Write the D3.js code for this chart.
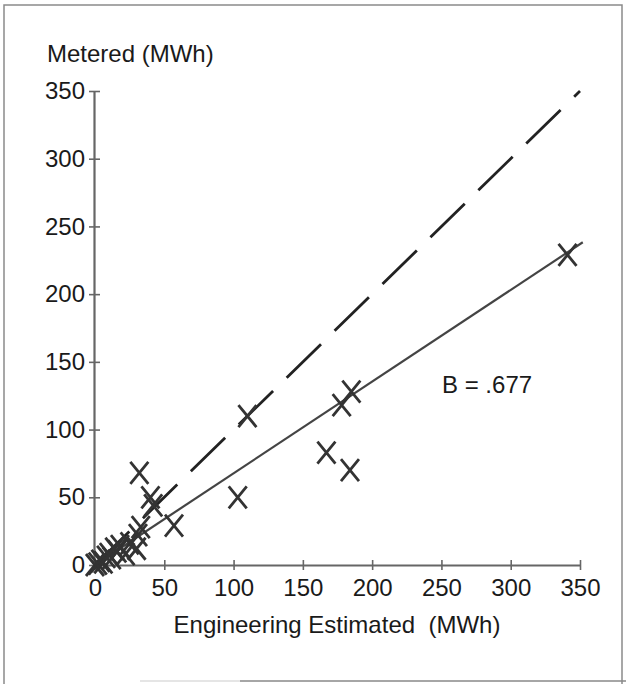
<!DOCTYPE html>
<html>
<head>
<meta charset="utf-8">
<script src="https://cdn.jsdelivr.net/npm/d3@7"></script>
<style>
  body { margin: 0; background: #fff; }
  text { font-family: "Liberation Sans", Arial, sans-serif; fill: #1a1a1a; }
</style>
</head>
<body>
<script>

// values (MWh)
var estimated = [0, 2, 4, 6, 8, 10, 12, 14, 16, 18, 22, 25, 30, 31, 33, 32, 40, 42, 57, 103, 110, 167, 178, 184, 185, 341];
var metered   = [0, 1, 3, 2, 6, 8, 5, 12, 10, 14, 8, 16, 12, 22, 28, 68, 50, 44, 29, 50, 110, 83, 118, 70, 128, 229];

var xTicks = [0, 50, 100, 150, 200, 250, 300, 350],
    yTicks = [0, 50, 100, 150, 200, 250, 300, 350];

var slope = 0.677;          // fitted line, B = .677
var fitEnd = [0, 352];      // estimated range the fit is drawn over
var identity = [0, 350];    // 1:1 reference line

var width = 626,
    height = 684;

var svg = d3.select("body").append("svg")
    .attr("width", width)
    .attr("height", height);

// scanned frame round the figure
svg.append("path")
    .attr("d", "M4,684V5H622V684")
    .attr("fill", "none")
    .attr("stroke", "#8a8a8a")
    .attr("stroke-width", 1.5);
svg.append("line")
    .attr("x1", 140).attr("x2", 240)
    .attr("y1", 681).attr("y2", 681)
    .attr("stroke", "#ccc")
    .attr("stroke-width", 1.2);
svg.append("line")
    .attr("x1", 240).attr("x2", 626)
    .attr("y1", 681).attr("y2", 681)
    .attr("stroke", "#888")
    .attr("stroke-width", 1.5);

var x = d3.scaleLinear().domain([0, 350]).range([95, 580]);
var y = d3.scaleLinear().domain([0, 350]).range([565, 91]);

var xAxis = svg.append("g")
    .attr("transform", "translate(0," + y(0) + ")")
    .call(d3.axisBottom(x).tickValues(xTicks).tickSizeOuter(0));

var yAxis = svg.append("g")
    .attr("transform", "translate(" + (x(0) - 1) + ",0)")
    .call(d3.axisLeft(y).tickValues(yTicks).tickSizeOuter(0));

[xAxis, yAxis].forEach(function(g) {
  g.attr("font-size", null).attr("font-family", null);
  g.select(".domain").attr("stroke", "#666").attr("stroke-width", 2.2);
  g.selectAll(".tick line").attr("stroke", "#666").attr("stroke-width", 1.6);
  g.selectAll(".tick text").style("font-size", "24px").attr("fill", "#1a1a1a");
});

xAxis.selectAll(".tick line").attr("y1", -5).attr("y2", 5);
xAxis.selectAll(".tick text").attr("y", 14);

yAxis.selectAll(".tick line").attr("x1", -5).attr("x2", 6);
yAxis.selectAll(".tick text").attr("x", -9);

// 1:1 dashed line
var line = d3.line()
    .x(function(d) { return x(d[0]); })
    .y(function(d) { return y(d[1]); });

svg.append("path")
    .datum(identity.map(function(v) { return [v, v]; }))
    .attr("d", line)
    .attr("fill", "none")
    .attr("stroke", "#222")
    .attr("stroke-width", 2.8)
    .attr("stroke-dasharray", "48,19");

// regression line
svg.append("path")
    .datum(fitEnd.map(function(v) { return [v, v * slope]; }))
    .attr("d", line)
    .attr("fill", "none")
    .attr("stroke", "#444")
    .attr("stroke-width", 2.2);

// X markers
svg.selectAll(".pt")
    .data(estimated)
  .enter().append("path")
    .attr("class", "pt")
    .attr("transform", function(d, i) {
      return "translate(" + x(d) + "," + y(metered[i]) + ")";
    })
    .attr("d", "M-9,-11L9,11M-9,11L9,-11")
    .attr("fill", "none")
    .attr("stroke", "#333")
    .attr("stroke-width", 2.8);

// labels
svg.append("text")
    .attr("x", 47).attr("y", 62)
    .style("font-size", "24px")
    .text("Metered (MWh)");

svg.append("text")
    .attr("x", 337).attr("y", 633)
    .attr("text-anchor", "middle")
    .style("font-size", "24px")
    .style("white-space", "pre")
    .text("Engineering Estimated  (MWh)");

svg.append("text")
    .attr("x", 442).attr("y", 393)
    .style("font-size", "24px")
    .text("B = .677");

</script>
</body>
</html>
